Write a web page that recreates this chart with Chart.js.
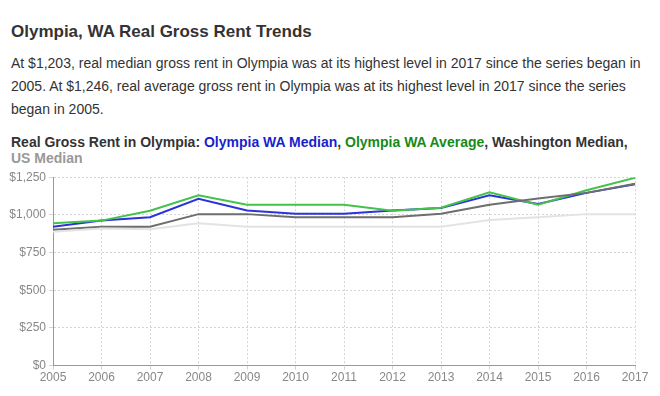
<!DOCTYPE html>
<html><head><meta charset="utf-8">
<script src="https://cdn.jsdelivr.net/npm/chart.js@4"></script>
<style>
body{margin:0;width:660px;height:396px;background:#fff;font-family:"Liberation Sans",Arial,sans-serif;color:#333;position:relative;overflow:hidden}
h1{position:absolute;left:11px;top:22px;margin:0;font-size:17px;font-weight:bold;color:#333}
p{position:absolute;left:11px;top:52px;width:640px;margin:0;font-size:14px;line-height:23px;color:#333}
.ct{position:absolute;left:11px;top:134px;width:640px;font-size:14px;font-weight:bold;line-height:16px;color:#333}
.b{color:#1a1fcc}.g{color:#178a17}.w{color:#333}.u{color:#999}
#wrap{position:absolute;left:0;top:167px;width:660px;height:229px}
</style></head><body>
<h1>Olympia, WA Real Gross Rent Trends</h1>
<p>At $1,203, real median gross rent in Olympia was at its highest level in 2017 since the series began in 2005. At $1,246, real average gross rent in Olympia was at its highest level in 2017 since the series began in 2005.</p>
<div class="ct">Real Gross Rent in Olympia: <span class="b">Olympia WA Median</span>, <span class="g">Olympia WA Average</span>, <span class="w">Washington Median</span>,<br><span class="u">US Median</span></div>
<div id="wrap"><canvas id="c" width="660" height="229"></canvas></div>
<script>
const years = ["2005","2006","2007","2008","2009","2010","2011","2012","2013","2014","2015","2016","2017"];
const olympiaMedian = [921,962,984,1107,1029,1007,1007,1029,1045,1130,1072,1146,1203];
const olympiaAverage = [944,962,1027,1130,1067,1067,1067,1027,1047,1150,1067,1163,1246];
const waMedian = [901,922,922,1005,1005,984,984,984,1007,1067,1109,1146,1206];
const usMedian = [888,910,905,944,922,922,922,922,922,966,984,1005,1005];
const yTicks = [0,250,500,750,1000,1250];

const ds = (data,color,w)=>({data,borderColor:color,backgroundColor:color,borderWidth:w,pointRadius:0,tension:0,fill:false});
new Chart(document.getElementById('c'),{
  type:'line',
  data:{labels:years,datasets:[
    ds(usMedian,'#e3e3e3',2),
    ds(waMedian,'#6e6e6e',2),
    ds(olympiaAverage,'#44c24a',2),
    ds(olympiaMedian,'#2b33dd',2)
  ]},
  options:{
    responsive:false,animation:false,
    layout:{padding:{left:0,right:25,top:5,bottom:10}},
    plugins:{legend:{display:false},tooltip:{enabled:false}},
    scales:{
      x:{offset:false,
        grid:{color:'#d4d4d4',tickLength:4,drawTicks:true},
        border:{color:'#999',width:1,dash:[2,2]},
        ticks:{color:'#888',font:{family:'Liberation Sans',size:12},maxRotation:0,autoSkip:false,padding:1}},
      y:{min:0,max:1250,
        afterBuildTicks:(s)=>{s.ticks=yTicks.map(v=>({value:v}));},
        afterFit:(s)=>{s.width=53;},
        grid:{color:'#d4d4d4',tickLength:4},
        border:{color:'#999',width:1,dash:[2,2]},
        ticks:{color:'#888',font:{family:'Liberation Sans',size:12},padding:3,
          callback:(v)=>'$'+v.toLocaleString('en-US')}}
    }
  }
});
</script>
</body></html>
